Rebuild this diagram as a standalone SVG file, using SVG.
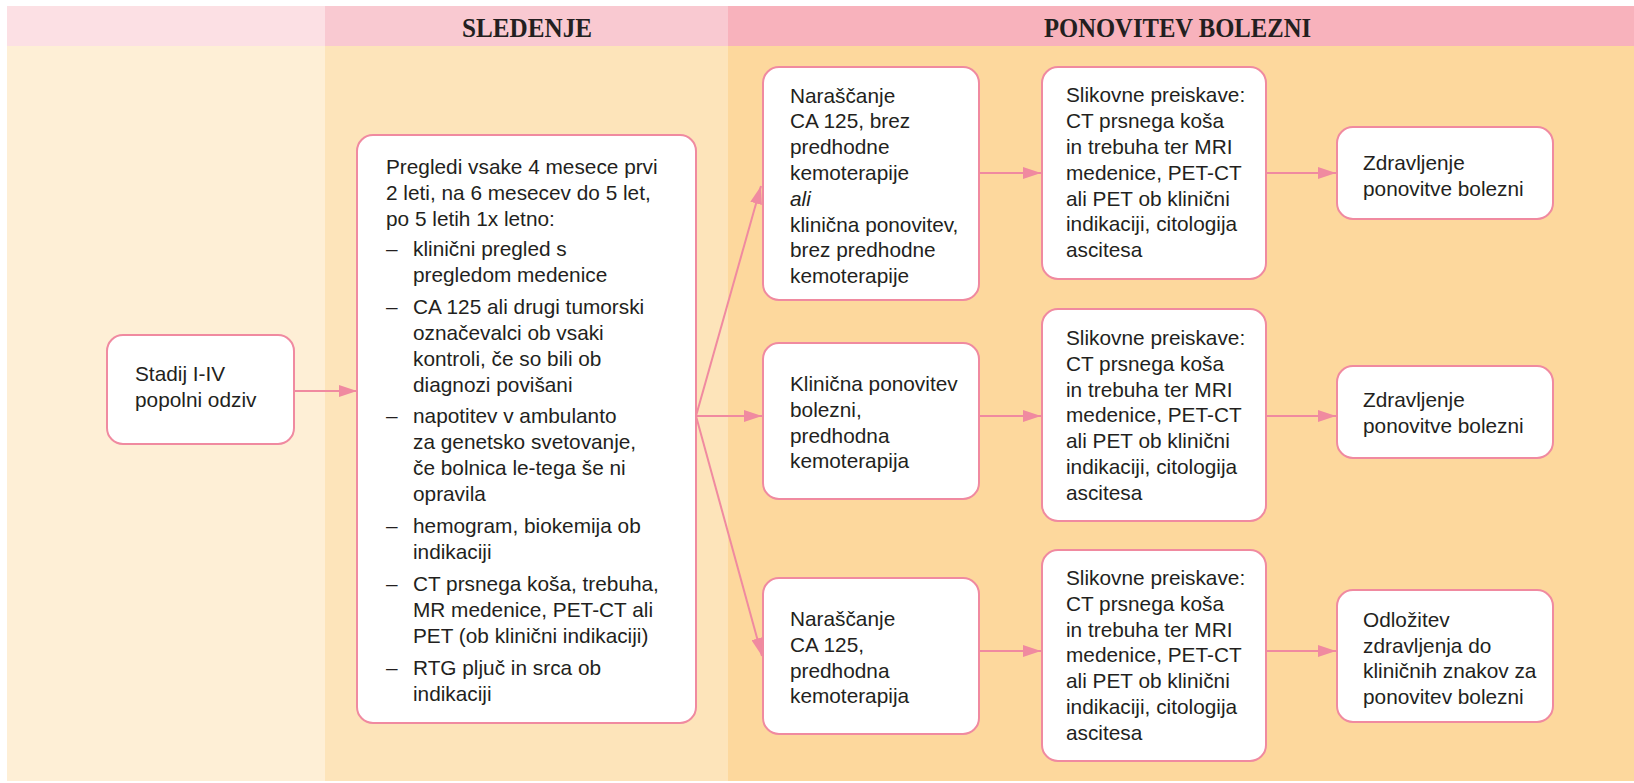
<svg xmlns="http://www.w3.org/2000/svg" width="1634" height="783" viewBox="0 0 1634 783">
<defs>
<style>
.hd{font-family:"Liberation Serif","Times New Roman",serif;font-weight:bold;font-size:27px;fill:#231f20}
.t{font-family:"Liberation Sans",Arial,sans-serif;font-size:20.8px;fill:#231f20}
.box{fill:#ffffff;stroke:#f08aa0;stroke-width:2}
.ln{stroke:#f08aa0;stroke-width:2;fill:none}
</style>
<marker id="ah" markerWidth="18" markerHeight="12" refX="18" refY="6" orient="auto" markerUnits="userSpaceOnUse">
<path d="M0,0 L18,6 L0,12 Z" fill="#f08aa0"/>
</marker>
</defs>
<rect x="0" y="0" width="1634" height="783" fill="#ffffff"/>
<g id="background">
<rect x="7" y="6" width="318" height="40" fill="#fce0e4"/>
<rect x="325" y="6" width="403" height="40" fill="#f9c9d1"/>
<rect x="728" y="6" width="906" height="40" fill="#f8b2bc"/>
<rect x="7" y="46" width="318" height="735" fill="#feefd6"/>
<rect x="325" y="46" width="403" height="735" fill="#fde4ba"/>
<rect x="728" y="46" width="906" height="735" fill="#fdd89d"/>
<text class="hd" x="462" y="37" textLength="130" lengthAdjust="spacingAndGlyphs">SLEDENJE</text>
<text class="hd" x="1044" y="37" textLength="267" lengthAdjust="spacingAndGlyphs">PONOVITEV BOLEZNI</text>
</g>
<g id="connectors">
<line class="ln" x1="294" y1="391" x2="357" y2="391" marker-end="url(#ah)"/>
<line class="ln" x1="696" y1="416" x2="761" y2="186" marker-end="url(#ah)"/>
<line class="ln" x1="696" y1="416" x2="762" y2="416" marker-end="url(#ah)"/>
<line class="ln" x1="696" y1="416" x2="762" y2="656" marker-end="url(#ah)"/>
<line class="ln" x1="979" y1="173" x2="1041" y2="173" marker-end="url(#ah)"/>
<line class="ln" x1="979" y1="416" x2="1041" y2="416" marker-end="url(#ah)"/>
<line class="ln" x1="979" y1="651" x2="1041" y2="651" marker-end="url(#ah)"/>
<line class="ln" x1="1266" y1="173" x2="1336" y2="173" marker-end="url(#ah)"/>
<line class="ln" x1="1266" y1="416" x2="1336" y2="416" marker-end="url(#ah)"/>
<line class="ln" x1="1266" y1="651" x2="1336" y2="651" marker-end="url(#ah)"/>
</g>
<g id="n1">
<rect class="box" x="107" y="335" width="187" height="109" rx="16"/>
<text class="t" x="135" y="381">Stadij I-IV</text>
<text class="t" x="135" y="407">popolni odziv</text>
</g>
<g id="n2">
<rect class="box" x="357" y="135" width="339" height="588" rx="16"/>
<text class="t" x="386" y="174">Pregledi vsake 4 mesece prvi</text>
<text class="t" x="386" y="200">2 leti, na 6 mesecev do 5 let,</text>
<text class="t" x="386" y="226">po 5 letih 1x letno:</text>
<text class="t" x="386" y="256">–</text>
<text class="t" x="413" y="256">klinični pregled s</text>
<text class="t" x="413" y="282">pregledom medenice</text>
<text class="t" x="386" y="314">–</text>
<text class="t" x="413" y="314">CA 125 ali drugi tumorski</text>
<text class="t" x="413" y="340">označevalci ob vsaki</text>
<text class="t" x="413" y="366">kontroli, če so bili ob</text>
<text class="t" x="413" y="392">diagnozi povišani</text>
<text class="t" x="386" y="423">–</text>
<text class="t" x="413" y="423">napotitev v ambulanto</text>
<text class="t" x="413" y="449">za genetsko svetovanje,</text>
<text class="t" x="413" y="475">če bolnica le-tega še ni</text>
<text class="t" x="413" y="501">opravila</text>
<text class="t" x="386" y="533">–</text>
<text class="t" x="413" y="533">hemogram, biokemija ob</text>
<text class="t" x="413" y="559">indikaciji</text>
<text class="t" x="386" y="591">–</text>
<text class="t" x="413" y="591">CT prsnega koša, trebuha,</text>
<text class="t" x="413" y="617">MR medenice, PET-CT ali</text>
<text class="t" x="413" y="643">PET (ob klinični indikaciji)</text>
<text class="t" x="386" y="675">–</text>
<text class="t" x="413" y="675">RTG pljuč in srca ob</text>
<text class="t" x="413" y="701">indikaciji</text>
</g>
<g id="n3a">
<rect class="box" x="763" y="67" width="216" height="233" rx="16"/>
<text class="t" x="790" y="102.5">Naraščanje</text>
<text class="t" x="790" y="128.3">CA 125, brez</text>
<text class="t" x="790" y="154.1">predhodne</text>
<text class="t" x="790" y="179.9">kemoterapije</text>
<text class="t" x="790" y="205.7" font-style="italic">ali</text>
<text class="t" x="790" y="231.5">klinična ponovitev,</text>
<text class="t" x="790" y="257.3">brez predhodne</text>
<text class="t" x="790" y="283.1">kemoterapije</text>
</g>
<g id="n3b">
<rect class="box" x="763" y="343" width="216" height="156" rx="16"/>
<text class="t" x="790" y="391">Klinična ponovitev</text>
<text class="t" x="790" y="416.8">bolezni,</text>
<text class="t" x="790" y="442.6">predhodna</text>
<text class="t" x="790" y="468.4">kemoterapija</text>
</g>
<g id="n3c">
<rect class="box" x="763" y="578" width="216" height="156" rx="16"/>
<text class="t" x="790" y="626">Naraščanje</text>
<text class="t" x="790" y="651.8">CA 125,</text>
<text class="t" x="790" y="677.6">predhodna</text>
<text class="t" x="790" y="703.4">kemoterapija</text>
</g>
<g id="n4a">
<rect class="box" x="1042" y="67" width="224" height="212" rx="16"/>
<text class="t" x="1066" y="102.3">Slikovne preiskave:</text>
<text class="t" x="1066" y="128.1">CT prsnega koša</text>
<text class="t" x="1066" y="153.9">in trebuha ter MRI</text>
<text class="t" x="1066" y="179.7">medenice, PET-CT</text>
<text class="t" x="1066" y="205.5">ali PET ob klinični</text>
<text class="t" x="1066" y="231.3">indikaciji, citologija</text>
<text class="t" x="1066" y="257.1">ascitesa</text>
</g>
<g id="n4b">
<rect class="box" x="1042" y="309" width="224" height="212" rx="16"/>
<text class="t" x="1066" y="345">Slikovne preiskave:</text>
<text class="t" x="1066" y="370.8">CT prsnega koša</text>
<text class="t" x="1066" y="396.6">in trebuha ter MRI</text>
<text class="t" x="1066" y="422.4">medenice, PET-CT</text>
<text class="t" x="1066" y="448.2">ali PET ob klinični</text>
<text class="t" x="1066" y="474">indikaciji, citologija</text>
<text class="t" x="1066" y="499.8">ascitesa</text>
</g>
<g id="n4c">
<rect class="box" x="1042" y="550" width="224" height="211" rx="16"/>
<text class="t" x="1066" y="585">Slikovne preiskave:</text>
<text class="t" x="1066" y="610.8">CT prsnega koša</text>
<text class="t" x="1066" y="636.6">in trebuha ter MRI</text>
<text class="t" x="1066" y="662.4">medenice, PET-CT</text>
<text class="t" x="1066" y="688.2">ali PET ob klinični</text>
<text class="t" x="1066" y="714">indikaciji, citologija</text>
<text class="t" x="1066" y="739.8">ascitesa</text>
</g>
<g id="n5a">
<rect class="box" x="1337" y="127" width="216" height="92" rx="16"/>
<text class="t" x="1363" y="170">Zdravljenje</text>
<text class="t" x="1363" y="196">ponovitve bolezni</text>
</g>
<g id="n5b">
<rect class="box" x="1337" y="366" width="216" height="92" rx="16"/>
<text class="t" x="1363" y="407">Zdravljenje</text>
<text class="t" x="1363" y="433">ponovitve bolezni</text>
</g>
<g id="n5c">
<rect class="box" x="1337" y="590" width="216" height="132" rx="16"/>
<text class="t" x="1363" y="626.7">Odložitev</text>
<text class="t" x="1363" y="652.5">zdravljenja do</text>
<text class="t" x="1363" y="678.3">kliničnih znakov za</text>
<text class="t" x="1363" y="704.1">ponovitev bolezni</text>
</g>
</svg>
